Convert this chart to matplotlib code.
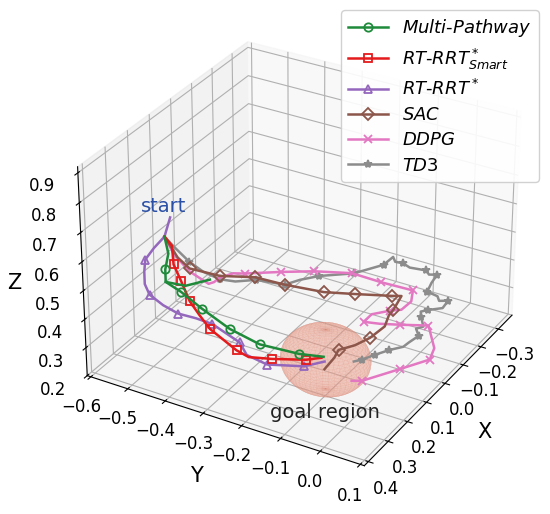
import numpy as np
import matplotlib
matplotlib.use("Agg")
import matplotlib.pyplot as plt

# ---------------- data ----------------
# Multi-Pathway (main path + short alternative branch)
mp_x = [0.395, 0.375, 0.372, 0.375, 0.338, 0.334, 0.323, 0.302, 0.246, 0.193]
mp_y = [-0.404, -0.407, -0.418, -0.416, -0.398, -0.346, -0.281, -0.215, -0.144, -0.108]
mp_z = [0.75, 0.68, 0.62, 0.58, 0.53, 0.49, 0.44, 0.40, 0.36, 0.33]
mp_mark = [2, 4, 5, 6, 7, 8]
mpb_x = [0.375, 0.343, 0.276]
mpb_y = [-0.416, -0.383, -0.357]
mpb_z = [0.58, 0.56, 0.55]

# RT-RRT*_Smart
rs_x = [0.395, 0.387, 0.377, 0.376, 0.388, 0.387, 0.393, 0.388, 0.377, 0.322, 0.238, 0.188]
rs_y = [-0.404, -0.390, -0.393, -0.375, -0.347, -0.322, -0.293, -0.228, -0.203, -0.173, -0.130, -0.116]
rs_z = [0.75, 0.72, 0.65, 0.60, 0.55, 0.51, 0.48, 0.43, 0.41, 0.38, 0.34, 0.32]
rs_mark = [2, 3, 4, 6, 7, 9, 10]

# RT-RRT*
rr_x = [0.395, 0.395, 0.394, 0.392, 0.383, 0.386, 0.388, 0.379, 0.371, 0.345, 0.325, 0.319, 0.326, 0.305, 0.244, 0.188]
rr_y = [-0.388, -0.404, -0.433, -0.458, -0.467, -0.465, -0.452, -0.422, -0.388, -0.356, -0.325, -0.258, -0.236, -0.195, -0.132, -0.108]
rr_z = [0.82, 0.75, 0.70, 0.65, 0.60, 0.56, 0.53, 0.50, 0.48, 0.46, 0.44, 0.40, 0.37, 0.34, 0.32, 0.31]
rr_mark = [3, 6, 8, 10, 11, 13, 14]

# SAC
sac_x = [0.395, 0.308, 0.255, 0.192, 0.141, 0.066, 0.036, 0.006, -0.037, -0.088, -0.100, -0.043,
         -0.025, 0.015, 0.069, 0.107, 0.135, 0.160, 0.196]
sac_y = [-0.404, -0.422, -0.422, -0.420, -0.407, -0.354, -0.291, -0.203, -0.144, -0.073, -0.053, -0.046,
         -0.049, -0.040, -0.051, -0.071, -0.099, -0.097, -0.104]
sac_z = [0.75, 0.62, 0.55, 0.50, 0.46, 0.43, 0.41, 0.40, 0.39, 0.38, 0.38, 0.37,
         0.36, 0.35, 0.34, 0.33, 0.32, 0.31, 0.29]
sac_mark = [2, 4, 5, 6, 7, 8, 9, 11, 14, 16]

# DDPG
ddpg_x = [0.395, 0.335, 0.267, 0.212, 0.186, 0.149, 0.101, 0.075, 0.036, -0.002, -0.060, -0.112, -0.122,
          -0.139, -0.101, -0.065, -0.046, -0.020, 0.022, -0.002, -0.023, -0.068, 0.008, 0.049, 0.114, 0.196, 0.209]
ddpg_y = [-0.404, -0.416, -0.416, -0.397, -0.397, -0.403, -0.393, -0.376, -0.348, -0.321, -0.262, -0.189, -0.116,
          -0.042, -0.028, -0.036, -0.057, -0.091, -0.091, -0.061, -0.020, 0.033, 0.084, 0.092, 0.047, -0.008, -0.028]
ddpg_z = [0.75, 0.65, 0.55, 0.48, 0.47, 0.46, 0.45, 0.44, 0.43, 0.42, 0.41, 0.40, 0.39,
          0.38, 0.37, 0.36, 0.36, 0.35, 0.35, 0.34, 0.34, 0.33, 0.32, 0.31, 0.30, 0.29, 0.29]
ddpg_mark = [7, 9, 10, 11, 12, 13, 16, 18, 20, 21, 23, 24, 25]

# TD3
td3_x = [0.395, 0.341, 0.263, 0.216, 0.167, 0.133, 0.076, 0.036, -0.010, -0.058, -0.126, -0.215, -0.263,
         -0.250, -0.260, -0.249, -0.270, -0.255, -0.265, -0.234, -0.189, -0.182, -0.170, -0.188, -0.149,
         -0.122, -0.112, -0.094, -0.057, -0.045, -0.024, 0.016, 0.035, 0.061, 0.098, 0.122, 0.140]
td3_y = [-0.404, -0.411, -0.418, -0.408, -0.392, -0.370, -0.346, -0.291, -0.275, -0.248, -0.191, -0.156, -0.154,
         -0.142, -0.126, -0.103, -0.069, -0.055, -0.038, -0.038, -0.028, 0.002, 0.012, 0.027, 0.031,
         0.006, -0.008, 0.002, 0.025, 0.012, 0.029, 0.023, 0.018, -0.006, -0.024, -0.045, -0.057]
td3_z = [0.75, 0.68, 0.58, 0.52, 0.47, 0.45, 0.43, 0.41, 0.405, 0.40, 0.39, 0.38, 0.38,
         0.375, 0.37, 0.37, 0.36, 0.36, 0.36, 0.35, 0.35, 0.35, 0.345, 0.34, 0.34,
         0.34, 0.335, 0.33, 0.33, 0.325, 0.32, 0.32, 0.315, 0.31, 0.31, 0.30, 0.30]
td3_mark = [2, 4, 6, 7, 9, 10, 11, 14, 16, 18, 20, 23, 25, 27, 30, 33, 34, 35]

# goal region (sphere) and start
goal_center = (0.167, -0.116, 0.30)
goal_radius = 0.105
start_point = (0.395, -0.404, 0.75)

x_ticks = [-0.3, -0.2, -0.1, 0.0, 0.1, 0.2, 0.3, 0.4]
y_ticks = [-0.6, -0.5, -0.4, -0.3, -0.2, -0.1, 0.0, 0.1]
z_ticks = [0.2, 0.3, 0.4, 0.5, 0.6, 0.7, 0.8, 0.9]

labels = [r'$Multi$-$Pathway$', r'$RT$-$RRT^*_{Smart}$', r'$RT$-$RRT^*$',
          r'$SAC$', r'$DDPG$', r'$TD3$']
colors = ['#1e8a3a', '#e41a1c', '#9467bd', '#8c564b', '#e377c2', '#8c8c8c']
markers = ['o', 's', '^', 'D', 'x', '*']

# ---------------- figure ----------------
fig = plt.figure(figsize=(5.5, 5.14), dpi=100)
ax = fig.add_axes([0.039, 0.012, 1.0, 1.0], projection='3d', computed_zorder=False)
ax.view_init(elev=30, azim=30)
ax.set_box_aspect(None, zoom=0.96)

# sphere
u = np.linspace(0, 2 * np.pi, 48)
v = np.linspace(0, np.pi, 36)
sx = goal_center[0] + goal_radius * np.outer(np.cos(u), np.sin(v))
sy = goal_center[1] + goal_radius * np.outer(np.sin(u), np.sin(v))
sz = goal_center[2] + goal_radius * np.outer(np.ones_like(u), np.cos(v))
ax.plot_surface(sx, sy, sz, color='#eea08c', alpha=0.3, edgecolor='#dc8a78',
                linewidth=0.12, shade=False, zorder=1)

series = [(mp_x, mp_y, mp_z, mp_mark), (rs_x, rs_y, rs_z, rs_mark),
          (rr_x, rr_y, rr_z, rr_mark), (sac_x, sac_y, sac_z, sac_mark),
          (ddpg_x, ddpg_y, ddpg_z, ddpg_mark), (td3_x, td3_y, td3_z, td3_mark)]
draw_order = [5, 4, 3, 2, 1, 0]
handles = [None] * 6
for i in draw_order:
    xs, ys, zs, mk = series[i]
    filled = markers[i] in ('x', '*')
    ln, = ax.plot(xs, ys, zs, color=colors[i], lw=1.8, marker=markers[i],
                  markevery=mk, ms=6 if markers[i] != '*' else 6.0,
                  mfc=colors[i] if filled else 'none', mew=1.3, zorder=3 + (5 - i),
                  label=labels[i])
    handles[i] = ln
ax.plot(mpb_x, mpb_y, mpb_z, color=colors[0], lw=1.8, zorder=8)

ax.text(start_point[0], start_point[1], start_point[2] + 0.1, 'start',
        color='#2a4fa6', fontsize=14, ha='center', va='center', zorder=20)
ax.text(goal_center[0], goal_center[1], goal_center[2] - 0.19, 'goal region',
        color='#222222', fontsize=14, ha='center', va='center', zorder=20)

ax.set_xlim(-0.38, 0.42)
ax.set_ylim(-0.61, 0.11)
ax.set_zlim(0.2, 0.92)
ax.set_xticks(x_ticks)
ax.set_yticks(y_ticks)
ax.set_zticks(z_ticks)
ax.tick_params(labelsize=12)
ax.zaxis.set_tick_params(pad=7)
ax.set_xlabel('X', fontsize=15, labelpad=9)
ax.set_ylabel('Y', fontsize=15, labelpad=9)
ax.set_zlabel('Z', fontsize=15, labelpad=8)
for axis in (ax.xaxis, ax.yaxis, ax.zaxis):
    axis.offsetText.set_visible(False)

fig.legend(handles=handles, loc='upper right', bbox_to_anchor=(539 / 550, 1 - 10 / 514),
           borderaxespad=0.0, fontsize=13, labelspacing=0.4, handlelength=2.2,
           framealpha=0.9)

fig.savefig('out.png', dpi=100)
